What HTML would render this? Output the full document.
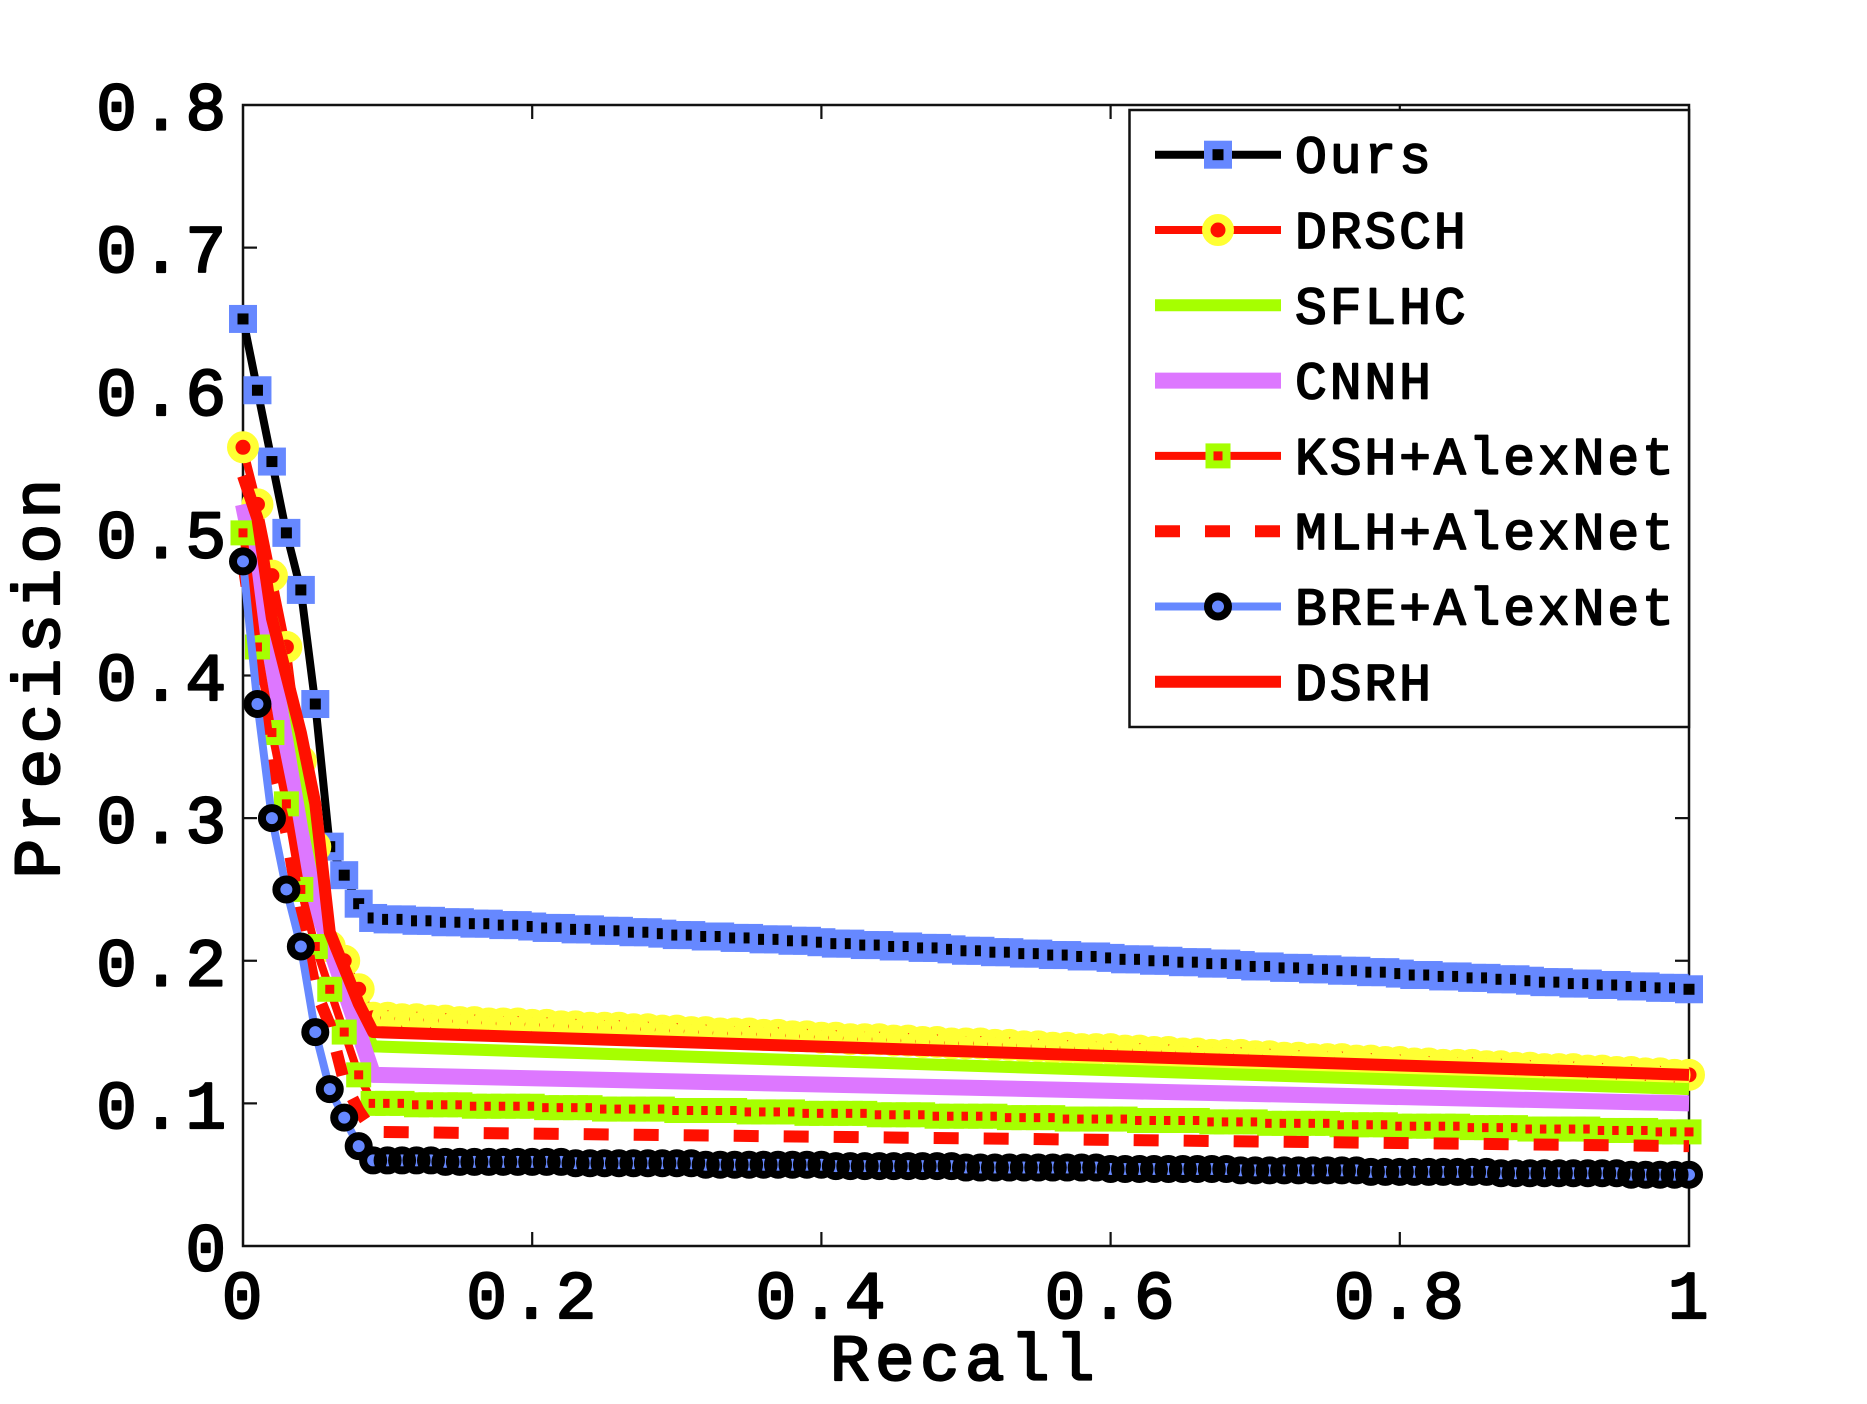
<!DOCTYPE html>
<html lang="en">
<head>
<meta charset="utf-8">
<title>Precision-Recall chart</title>
<style>
html,body{margin:0;padding:0;background:#fff;width:1867px;height:1404px;overflow:hidden}
svg{display:block}
text{font-family:"Liberation Mono",monospace;font-weight:normal;fill:#000;stroke:#000;stroke-width:2.2px;stroke-linejoin:round}
</style>
</head>
<body>
<svg id="chart" xmlns="http://www.w3.org/2000/svg" width="1867" height="1404" viewBox="0 0 1867 1404"></svg>
<script>
const recall = [0,.01,.02,.03,.04,.05,.06,.07,.08,.09,.10,.11,.12,.13,.14,.15,.16,.17,.18,.19,.20,.21,.22,.23,.24,.25,.26,.27,.28,.29,.30,.31,.32,.33,.34,.35,.36,.37,.38,.39,.40,.41,.42,.43,.44,.45,.46,.47,.48,.49,.50,.51,.52,.53,.54,.55,.56,.57,.58,.59,.60,.61,.62,.63,.64,.65,.66,.67,.68,.69,.70,.71,.72,.73,.74,.75,.76,.77,.78,.79,.80,.81,.82,.83,.84,.85,.86,.87,.88,.89,.90,.91,.92,.93,.94,.95,.96,.97,.98,.99,1];
const recallKnots = [0,.01,.02,.03,.04,.05,.06,.07,.08,.09,1];
const oursValues = [.65,.60,.55,.50,.46,.38,.28,.26,.24,.230,.229,.229,.228,.228,.227,.227,.226,.226,.225,.225,.224,.223,.223,.222,.222,.221,.221,.220,.220,.219,.218,.218,.217,.217,.216,.216,.215,.215,.214,.214,.213,.212,.212,.211,.211,.210,.210,.209,.209,.208,.207,.207,.206,.206,.205,.205,.204,.204,.203,.203,.202,.201,.201,.200,.200,.199,.199,.198,.198,.197,.196,.196,.195,.195,.194,.194,.193,.193,.192,.192,.191,.190,.190,.189,.189,.188,.188,.187,.187,.186,.185,.185,.184,.184,.183,.183,.182,.182,.181,.181,.180];
const drschValues = [.56,.52,.47,.42,.34,.28,.21,.20,.18,.160,.160,.159,.159,.158,.158,.157,.157,.156,.156,.156,.155,.155,.154,.154,.153,.153,.153,.152,.152,.151,.151,.150,.150,.149,.149,.149,.148,.148,.147,.147,.146,.146,.145,.145,.145,.144,.144,.143,.143,.142,.142,.142,.141,.141,.140,.140,.139,.139,.138,.138,.138,.137,.137,.136,.136,.135,.135,.134,.134,.134,.133,.133,.132,.132,.131,.131,.131,.130,.130,.129,.129,.128,.128,.127,.127,.127,.126,.126,.125,.125,.124,.124,.124,.123,.123,.122,.122,.121,.121,.120,.120];
const sflhcValues = [.52,.48,.44,.40,.33,.27,.21,.18,.16,.14,.11];
const cnnhValues = [.52,.47,.41,.35,.29,.24,.21,.18,.15,.12,.10];
const kshValues = [.50,.42,.36,.31,.25,.21,.18,.15,.12,.100,.100,.100,.099,.099,.099,.099,.098,.098,.098,.098,.098,.097,.097,.097,.097,.096,.096,.096,.096,.096,.095,.095,.095,.095,.095,.094,.094,.094,.094,.093,.093,.093,.093,.093,.092,.092,.092,.092,.091,.091,.091,.091,.091,.090,.090,.090,.090,.089,.089,.089,.089,.089,.088,.088,.088,.088,.088,.087,.087,.087,.087,.086,.086,.086,.086,.086,.085,.085,.085,.085,.084,.084,.084,.084,.084,.083,.083,.083,.083,.082,.082,.082,.082,.082,.081,.081,.081,.081,.080,.080,.080];
const mlhValues = [.48,.41,.33,.29,.23,.18,.155,.115,.095,.08,.07];
const breValues = [.48,.38,.30,.25,.21,.15,.11,.09,.07,.060,.060,.060,.060,.060,.059,.059,.059,.059,.059,.059,.059,.059,.059,.058,.058,.058,.058,.058,.058,.058,.058,.058,.057,.057,.057,.057,.057,.057,.057,.057,.057,.056,.056,.056,.056,.056,.056,.056,.056,.056,.055,.055,.055,.055,.055,.055,.055,.055,.055,.055,.054,.054,.054,.054,.054,.054,.054,.054,.054,.053,.053,.053,.053,.053,.053,.053,.053,.053,.052,.052,.052,.052,.052,.052,.052,.052,.052,.051,.051,.051,.051,.051,.051,.051,.051,.051,.050,.050,.050,.050,.050];
const dsrhValues = [.54,.51,.44,.40,.36,.31,.22,.195,.17,.15,.12];
const xTickValues = [0,.2,.4,.6,.8,1];
const xTickLabels = ["0","0.2","0.4","0.6","0.8","1"];
const yTickValues = [0,.1,.2,.3,.4,.5,.6,.7,.8];
const yTickLabels = ["0","0.1","0.2","0.3","0.4","0.5","0.6","0.7","0.8"];

const BLACK="#000000",RED="#ff1000",BLUE="#6688ff",YELLOW="#ffff33",GREEN="#a6ff00",PURPLE="#dd77ff";
const PL=243,PR=1689,PT=105,PB=1246;
const xScale=v=>PL+(PR-PL)*v;
const yScale=v=>PB-(PB-PT)*v/0.8;
const svg=document.getElementById('chart');
const NS="http://www.w3.org/2000/svg";
function mk(tag,attrs,parent){
  const el=document.createElementNS(NS,tag);
  for(const k in attrs) el.setAttribute(k,attrs[k]);
  parent.appendChild(el);
  return el;
}
function drawSquare(kind,cx,cy,parent){
  const half=kind==='ours'?9.75:8.5;
  const el=mk('rect',{x:cx-half,y:cy-half,width:half*2,height:half*2,
    fill:kind==='ours'?BLACK:RED,stroke:kind==='ours'?BLUE:GREEN,'stroke-width':kind==='ours'?8.5:8},parent);
  
  
}
function drawDiscFace(kind,cx,cy,parent){
  const el=mk('circle',{cx:cx,cy:cy,r:kind==='drsch'?11.75:10,fill:kind==='drsch'?RED:BLUE},parent);
  
  
}
function drawDiscRing(kind,cx,cy,parent){
  const el=mk('circle',{cx:cx,cy:cy,r:kind==='drsch'?11.75:10,fill:'none',
    stroke:kind==='drsch'?YELLOW:BLACK,'stroke-width':kind==='drsch'?8.5:8},parent);
  
  
}
function drawAllMarkers(kind,points,parent){
  if(kind==='ours'||kind==='ksh'){
    points.forEach(p=>drawSquare(kind,p[0],p[1],parent));
  }else{
    points.forEach(p=>drawDiscFace(kind,p[0],p[1],parent));
    points.forEach(p=>drawDiscRing(kind,p[0],p[1],parent));
  }
}

/* white plot + axes box */
const bg=mk('rect',{x:PL,y:PT,width:PR-PL,height:PB-PT,fill:'#fff',stroke:'#111','stroke-width':2.5},svg);



/* ticks */
xTickValues.forEach((v,i)=>{
  const x=xScale(v);
  if(v>0&&v<1){
    const t1=mk('line',{x1:x,x2:x,y1:PB,y2:PB-14,stroke:'#111','stroke-width':2.2},svg);
    
    
    const t2=mk('line',{x1:x,x2:x,y1:PT,y2:PT+14,stroke:'#111','stroke-width':2.2},svg);
    
    
  }
  const lbl=mk('text',{x:x+1,y:1318,'text-anchor':'middle','font-size':68,'letter-spacing':3.8},svg);
  lbl.textContent=xTickLabels[i];
  
  
});
yTickValues.forEach((v,i)=>{
  const y=yScale(v);
  if(v>0&&v<0.8){
    const t1=mk('line',{x1:PL,x2:PL+14,y1:y,y2:y,stroke:'#111','stroke-width':2.2},svg);
    
    
    const t2=mk('line',{x1:PR,x2:PR-14,y1:y,y2:y,stroke:'#111','stroke-width':2.2},svg);
    
    
  }
  const lbl=mk('text',{x:230,y:y+24.5,'text-anchor':'end','font-size':68,'letter-spacing':3.8},svg);
  lbl.textContent=yTickLabels[i];
  
  
});

/* axis titles */
const xt=mk('text',{x:965,y:1380,'text-anchor':'middle','font-size':66,'letter-spacing':5.4},svg);
xt.textContent='Recall';


const yt=mk('text',{x:0,y:0,'text-anchor':'middle','font-size':66,'letter-spacing':5.4,transform:'translate(59,676) rotate(-90)'},svg);
yt.textContent='Precision';



/* series, back to front */
const seriesList=[
  {key:'ours',label:'Ours',xs:recall,ys:oursValues,color:BLACK,width:8,dash:null,marker:'ours'},
  {key:'drsch',label:'DRSCH',xs:recall,ys:drschValues,color:RED,width:8,dash:null,marker:'drsch'},
  {key:'sflhc',label:'SFLHC',xs:recallKnots,ys:sflhcValues,color:GREEN,width:12,dash:null,marker:null},
  {key:'cnnh',label:'CNNH',xs:recallKnots,ys:cnnhValues,color:PURPLE,width:16,dash:null,marker:null},
  {key:'ksh',label:'KSH+AlexNet',xs:recall,ys:kshValues,color:RED,width:8,dash:null,marker:'ksh'},
  {key:'mlh',label:'MLH+AlexNet',xs:recallKnots,ys:mlhValues,color:RED,width:12,dash:'25 25',marker:null},
  {key:'bre',label:'BRE+AlexNet',xs:recall,ys:breValues,color:BLUE,width:8,dash:null,marker:'bre'},
  {key:'dsrh',label:'DSRH',xs:recallKnots,ys:dsrhValues,color:RED,width:12,dash:null,marker:null}
];
seriesList.forEach(s=>{
  const g=mk('g',{},svg);
  
  
  const d=s.ys.map((v,i)=>(i?'L':'M')+xScale(s.xs[i]).toFixed(2)+' '+yScale(v).toFixed(2)).join(' ');
  const attrs={d:d,fill:'none',stroke:s.color,'stroke-width':s.width,'stroke-linejoin':'round'};
  if(s.dash) attrs['stroke-dasharray']=s.dash;
  const line=mk('path',attrs,g);
  
  
  if(s.marker){
    drawAllMarkers(s.marker,s.ys.map((v,i)=>[xScale(s.xs[i]),yScale(v)]),g);
  }
});

/* legend */
const legend=mk('g',{},svg);


const box=mk('rect',{x:1129.5,y:110,width:559.5,height:617,fill:'#fff',stroke:'#111','stroke-width':2.5},legend);


seriesList.forEach((s,i)=>{
  const y=154.7+i*75.3;
  const g=mk('g',{},legend);
  
  
  const attrs={x1:1155,x2:1281,y1:y,y2:y,stroke:s.color,'stroke-width':s.width};
  if(s.dash) attrs['stroke-dasharray']='25 25';
  const ln=mk('line',attrs,g);
  
  
  if(s.marker) drawAllMarkers(s.marker,[[1218,y]],g);
  const t=mk('text',{x:1295,y:y+18,'font-size':53,'letter-spacing':2.9,style:'stroke-width:1.8px'},g);
  t.textContent=s.label;
  
  
});
</script>
</body>
</html>
